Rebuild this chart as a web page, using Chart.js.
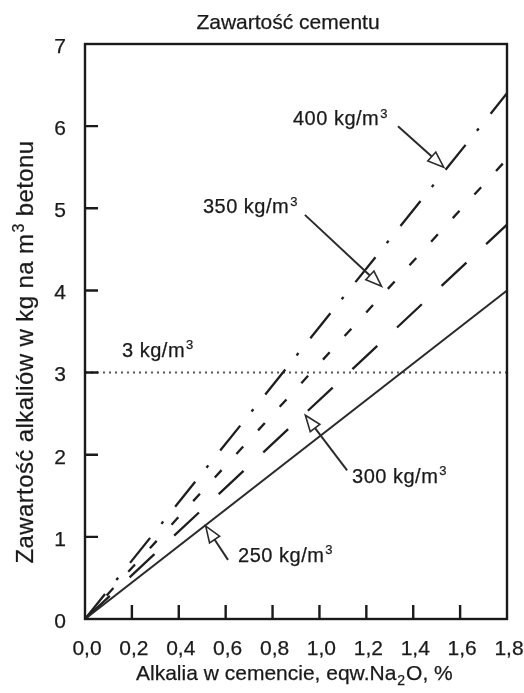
<!DOCTYPE html>
<html>
<head>
<meta charset="utf-8">
<script src="https://cdn.jsdelivr.net/npm/chart.js@4.4.1/dist/chart.umd.min.js"></script>
<style>
  body { margin: 0; background: #fff; }
  canvas { display: block; }
</style>
</head>
<body>
<canvas id="myChart" width="524" height="693"></canvas>
<script>
// dane
const alkaliPct = [0, 1.8];
const cement250 = [0, 4.0];
const cement300 = [0, 4.8];
const cement350 = [0, 5.6];
const cement400 = [0, 6.4];
const limit3 = [3, 3];

const xTickValues = [0, 0.2, 0.4, 0.6, 0.8, 1.0, 1.2, 1.4, 1.6, 1.8];
const xTickLabels = ['0,0', '0,2', '0,4', '0,6', '0,8', '1,0', '1,2', '1,4', '1,6', '1,8'];
const yTickValues = [0, 1, 2, 3, 4, 5, 6, 7];
const yTickLabels = ['0', '1', '2', '3', '4', '5', '6', '7'];

// etykiety i strzalki (w jednostkach osi)
const labels = [
  { text: '400 kg/m', x: 0.887, y: 6.01, tail: [1.335, 6.0], tip: [1.53, 5.50] },
  { text: '350 kg/m', x: 0.503, y: 4.94, tail: [0.938, 4.92], tip: [1.265, 4.05] },
  { text: '3 kg/m', x: 0.158, y: 3.19 },
  { text: '300 kg/m', x: 1.139, y: 1.656, tail: [1.118, 1.81], tip: [0.94, 2.48] },
  { text: '250 kg/m', x: 0.653, y: 0.694, tail: [0.61, 0.72], tip: [0.515, 1.13] }
];

const FONT = '"Liberation Sans", Arial, sans-serif';
const INK = '#1a1a1a';

function pts(ys) {
  return alkaliPct.map((x, i) => ({ x: x, y: ys[i] }));
}

// tekst lekko pogrubiony, jak w skanie
function txt(ctx, s, x, y) {
  ctx.fillText(s, x, y);
  ctx.strokeText(s, x, y);
}

function richText(ctx, x, y, base, sup, size, opts) {
  opts = opts || {};
  ctx.font = size + 'px ' + FONT;
  txt(ctx, base, x, y);
  let w = ctx.measureText(base).width;
  ctx.font = Math.round(size * 0.65) + 'px ' + FONT;
  if (opts.sub) {
    txt(ctx, sup, x + w + 1, y + size * 0.22);
  } else {
    txt(ctx, sup, x + w + 1, y - size * 0.38);
  }
  return w + ctx.measureText(sup).width + 1;
}

function arrow(ctx, x1, y1, x2, y2) {
  ctx.save();
  ctx.strokeStyle = '#2a2a2a';
  ctx.lineWidth = 2;
  const ang = Math.atan2(y2 - y1, x2 - x1);
  const hl = 16, hw = 6;
  const bx = x2 - Math.cos(ang) * hl, by = y2 - Math.sin(ang) * hl;
  ctx.beginPath();
  ctx.moveTo(x1, y1);
  ctx.lineTo(bx, by);
  ctx.stroke();
  ctx.fillStyle = '#fff';
  ctx.lineWidth = 1.6;
  ctx.beginPath();
  ctx.moveTo(x2, y2);
  ctx.lineTo(bx - Math.sin(ang) * hw, by + Math.cos(ang) * hw);
  ctx.lineTo(bx + Math.sin(ang) * hw, by - Math.cos(ang) * hw);
  ctx.closePath();
  ctx.fill();
  ctx.stroke();
  ctx.restore();
}

const decor = {
  id: 'decor',
  afterDatasetsDraw(chart) {
    const ctx = chart.ctx;
    const xs = chart.scales.x, ys = chart.scales.y;
    const a = chart.chartArea;
    ctx.save();

    // ramka
    ctx.strokeStyle = INK;
    ctx.lineWidth = 2.4;
    ctx.strokeRect(a.left, a.top, a.right - a.left, a.bottom - a.top);

    // znaczniki do wewnatrz
    ctx.beginPath();
    yTickValues.forEach(v => {
      if (v === 0 || v === 7) return;
      const py = ys.getPixelForValue(v);
      ctx.moveTo(a.left, py);
      ctx.lineTo(a.left + 13, py);
    });
    xTickValues.forEach(v => {
      if (v === 0 || v === 1.8) return;
      const px = xs.getPixelForValue(v);
      ctx.moveTo(px, a.bottom);
      ctx.lineTo(px, a.bottom - 14);
    });
    ctx.stroke();

    ctx.fillStyle = INK;
    ctx.strokeStyle = INK;
    ctx.lineWidth = 0.25;

    // opisy osi
    ctx.font = '21px ' + FONT;
    ctx.textAlign = 'center';
    ctx.textBaseline = 'alphabetic';
    xTickValues.forEach((v, i) => {
      txt(ctx, xTickLabels[i], xs.getPixelForValue(v) + 2, 655);
    });
    ctx.textAlign = 'right';
    ctx.textBaseline = 'middle';
    yTickValues.forEach((v, i) => {
      txt(ctx, yTickLabels[i], 66, ys.getPixelForValue(v) + 3);
    });

    // tytul
    ctx.textAlign = 'center';
    ctx.textBaseline = 'alphabetic';
    ctx.font = '21px ' + FONT;
    txt(ctx, 'Zawartość cementu', 288, 29);

    // tytul osi x
    ctx.textAlign = 'left';
    ctx.font = '21px ' + FONT;
    let p1 = 'Alkalia w cemencie, eqw.Na';
    let wTotal = ctx.measureText(p1 + 'O, %').width + 9;
    let x0 = 294 - wTotal / 2;
    let w1 = richText(ctx, x0, 680, p1, '2', 21, { sub: true });
    ctx.font = '21px ' + FONT;
    txt(ctx, 'O, %', x0 + w1 + 1, 680);

    // tytul osi y
    ctx.save();
    ctx.translate(33, 352);
    ctx.rotate(-Math.PI / 2);
    ctx.font = '24px ' + FONT;
    ctx.letterSpacing = '0.4px';
    let q1 = 'Zawartość alkaliów w kg na m';
    let q2 = ' betonu';
    let wy = ctx.measureText(q1).width + ctx.measureText(q2).width;
    ctx.font = '16px ' + FONT;
    wy += ctx.measureText('3').width + 1;
    let y0 = -wy / 2;
    let wq = richText(ctx, y0, 0, q1, '3', 24);
    ctx.font = '24px ' + FONT;
    txt(ctx, q2, y0 + wq, 0);
    ctx.restore();

    // etykiety serii i strzalki
    labels.forEach(l => {
      if (l.tail) {
        arrow(ctx, xs.getPixelForValue(l.tail[0]), ys.getPixelForValue(l.tail[1]),
          xs.getPixelForValue(l.tip[0]), ys.getPixelForValue(l.tip[1]));
      }
      ctx.fillStyle = INK;
      ctx.strokeStyle = INK;
      ctx.lineWidth = 0.25;
      ctx.textAlign = 'left';
      ctx.letterSpacing = '0.5px';
      richText(ctx, xs.getPixelForValue(l.x), ys.getPixelForValue(l.y), l.text, '3', 20);
      ctx.letterSpacing = '0px';
    });

    ctx.restore();
  }
};

const lineStyle = {
  borderColor: '#1e1e1e',
  borderWidth: 2.3,
  pointRadius: 0,
  fill: false,
  tension: 0
};

const ctx = document.getElementById('myChart').getContext('2d');
const myChart = new Chart(ctx, {
  type: 'line',
  data: {
    datasets: [
      Object.assign({}, lineStyle, { label: '250', data: pts(cement250), borderColor: '#2a2a2a', borderWidth: 2 }),
      Object.assign({}, lineStyle, { label: '300', data: pts(cement300), borderDash: [34, 27] }),
      Object.assign({}, lineStyle, { label: '350', data: pts(cement350), borderDash: [10, 22] }),
      Object.assign({}, lineStyle, { label: '400', data: pts(cement400), borderDash: [32, 18, 3, 19] }),
      Object.assign({}, lineStyle, { label: '3', data: pts(limit3), borderDash: [2, 4], borderWidth: 2, borderColor: '#555' })
    ]
  },
  options: {
    responsive: false,
    animation: false,
    layout: { padding: { left: 85, right: 17, top: 44, bottom: 74 } },
    plugins: { legend: false, tooltip: { enabled: false } },
    scales: {
      x: { type: 'linear', min: 0, max: 1.8, display: false },
      y: { type: 'linear', min: 0, max: 7, display: false }
    }
  },
  plugins: [decor]
});
</script>
</body>
</html>
